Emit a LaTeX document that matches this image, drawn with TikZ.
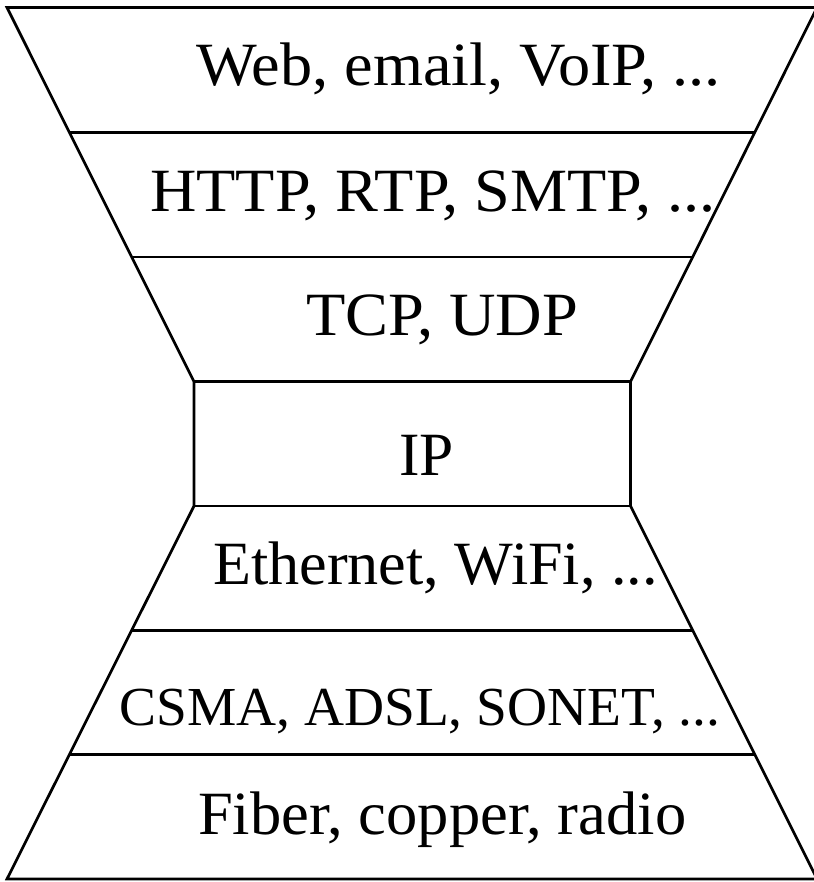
\documentclass[tikz,border=0pt]{standalone}
\usepackage{fontspec}
\setmainfont{Liberation Serif}
\usetikzlibrary{calc}
\begin{document}
\begin{tikzpicture}[x=1pt,y=-1pt,line width=2.7pt,
  lbl/.style={anchor=base west,inner sep=0pt,font=\fontsize{61.5}{70}\selectfont},
  lblsmall/.style={lbl,font=\fontsize{55}{64}\selectfont}]
\useasboundingbox (0,0) rectangle (813,882);
% outline corners
\coordinate (tl) at (7,7.5);
\coordinate (tr) at (817,7.5);
\coordinate (ipTL) at (194,381.7);
\coordinate (ipTR) at (630.5,381.7);
\coordinate (ipBL) at (194,506);
\coordinate (ipBR) at (630.5,506);
\coordinate (bl) at (7,879);
\coordinate (br) at (817,879);
\draw (tl) -- (tr) -- (ipTR) -- (ipBR) -- (br) -- (bl) -- (ipBL) -- (ipTL) -- cycle;
% layer dividers
\draw ($(tl)!1/3!(ipTL)$) -- ($(tr)!1/3!(ipTR)$);
\draw ($(tl)!2/3!(ipTL)$) -- ($(tr)!2/3!(ipTR)$);
\draw (ipTL) -- (ipTR);
\draw (ipBL) -- (ipBR);
\draw ($(ipBL)!1/3!(bl)$) -- ($(ipBR)!1/3!(br)$);
\draw ($(ipBL)!2/3!(bl)$) -- ($(ipBR)!2/3!(br)$);
% labels
\node[lbl] (app) at (195,86) {\scalebox{1.046}[1]{Web, email, VoIP, ...}};
\node[lbl] (proto) at (149,211.7) {\scalebox{1.044}[1]{HTTP, RTP, SMTP, ...}};
\node[lbl] (trans) at (305,335) {\scalebox{1.047}[1]{TCP, UDP}};
\node[lbl] (ip) at (398,475) {IP};
\node[lbl] (link) at (211.7,584) {\scalebox{1.011}[1]{Ethernet, WiFi, ...}};
\node[lblsmall] (mac) at (118,725) {\scalebox{1.008}[1]{CSMA, ADSL, SONET, ...}};
\node[lbl] (phys) at (196.7,834) {\scalebox{1.017}[1]{Fiber, copper, radio}};
\end{tikzpicture}
\end{document}
